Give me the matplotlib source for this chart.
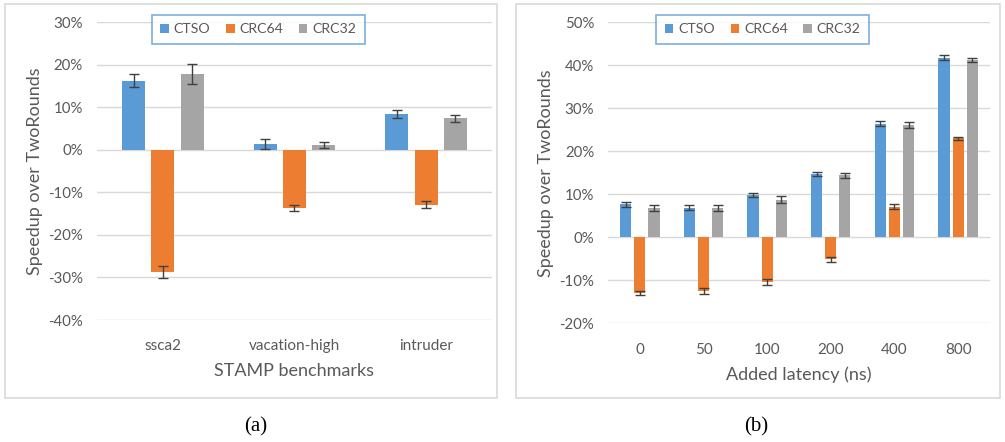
import matplotlib
matplotlib.use("Agg")
import numpy as np
import matplotlib.pyplot as plt
from matplotlib.patches import Rectangle
from matplotlib.ticker import FuncFormatter

# data (percent)
series = ["CTSO", "CRC64", "CRC32"]
colors = ["#5B9BD5", "#ED7D31", "#A5A5A5"]

stamp_labels = ["ssca2", "vacation-high", "intruder"]
stamp_ctso = [16.2, 1.3, 8.4]
stamp_crc64 = [-28.7, -13.7, -12.9]
stamp_crc32 = [17.8, 1.1, 7.4]
stamp_ctso_err = [1.5, 1.2, 0.9]
stamp_crc64_err = [1.5, 0.7, 0.8]
stamp_crc32_err = [2.3, 0.8, 0.85]

lat_labels = ["0", "50", "100", "200", "400", "800"]
lat_ctso = [7.7, 6.9, 9.8, 14.7, 26.4, 41.7]
lat_crc64 = [-12.9, -12.5, -10.4, -5.1, 7.1, 23.0]
lat_crc32 = [6.8, 6.8, 8.7, 14.4, 26.1, 41.2]
lat_ctso_err = [0.6, 0.65, 0.5, 0.5, 0.6, 0.6]
lat_crc64_err = [0.5, 0.6, 0.75, 0.55, 0.6, 0.35]
lat_crc32_err = [0.65, 0.6, 0.8, 0.55, 0.7, 0.4]

TXT = "#595959"
GRID = "#D9D9D9"
FONT = ["Lato", "DejaVu Sans"]
plt.rcParams["font.family"] = FONT

fig = plt.figure(figsize=(10.05, 4.42), dpi=100)

# panel frames
for (x0, x1) in [(5, 497), (516, 1000)]:
    fig.patches.append(Rectangle((x0 / 1005, 1 - 398 / 442), (x1 - x0) / 1005, 394 / 442,
                                 transform=fig.transFigure, fill=False,
                                 edgecolor=GRID, linewidth=1.2))


def draw(ax, labels, vals, errs, ylim, xlabel):
    x = np.arange(len(labels))
    width = 0.175
    step = 0.222
    for i, (v, e) in enumerate(zip(vals, errs)):
        ax.bar(x + (i - 1) * step, v, width, color=colors[i], label=series[i],
               yerr=e, error_kw=dict(ecolor="#404040", elinewidth=1.0, capsize=3.5, capthick=1.0),
               zorder=3)
    ax.set_xlim(-0.5, len(labels) - 0.5)
    ax.set_ylim(*ylim)
    ax.set_yticks(np.arange(ylim[0], ylim[1] + 1, 10))
    ax.yaxis.set_major_formatter(FuncFormatter(lambda v, p: f"{int(v)}%"))
    ax.grid(axis="y", color=GRID, linewidth=1.0, zorder=0)
    for s in ax.spines.values():
        s.set_visible(False)
    ax.tick_params(length=0, colors=TXT, labelsize=10.8)
    ax.tick_params(axis="x", labelsize=11, pad=14)
    ax.tick_params(axis="y", pad=10)
    ax.set_xticks(x)
    ax.set_xticklabels(labels)
    ax.set_xlabel(xlabel, color=TXT, fontsize=13, labelpad=7)
    ax.set_ylabel("Speedup over TwoRounds", color=TXT, fontsize=13, labelpad=4)


ax1 = fig.add_axes([0.0965, 0.276, 0.393, 0.674])
draw(ax1, stamp_labels, [stamp_ctso, stamp_crc64, stamp_crc32],
     [stamp_ctso_err, stamp_crc64_err, stamp_crc32_err], (-40, 30), "STAMP benchmarks")

ax2 = fig.add_axes([0.605, 0.2685, 0.380, 0.6815])
draw(ax2, lat_labels, [lat_ctso, lat_crc64, lat_crc32],
     [lat_ctso_err, lat_crc64_err, lat_crc32_err], (-20, 50), "Added latency (ns)")

for ax, cx in [(ax1, 0.257), (ax2, 0.759)]:
    h, l = ax.get_legend_handles_labels()
    leg = fig.legend(h, l, loc="center", bbox_to_anchor=(cx, 0.934), ncol=3,
                     frameon=True, fancybox=False, fontsize=10.2,
                     handlelength=0.6, handleheight=0.6, handletextpad=0.35,
                     columnspacing=1.1, borderpad=0.6)
    leg.get_frame().set_edgecolor("#5B9BD5")
    leg.get_frame().set_linewidth(1.2)
    for t in leg.get_texts():
        t.set_color(TXT)

fig.text(256 / 1005, 1 - 427 / 442, "(a)", ha="center", va="center",
         fontsize=15, family="Liberation Serif")
fig.text(756 / 1005, 1 - 427 / 442, "(b)", ha="center", va="center",
         fontsize=15, family="Liberation Serif")

fig.savefig("out.png", dpi=100)
